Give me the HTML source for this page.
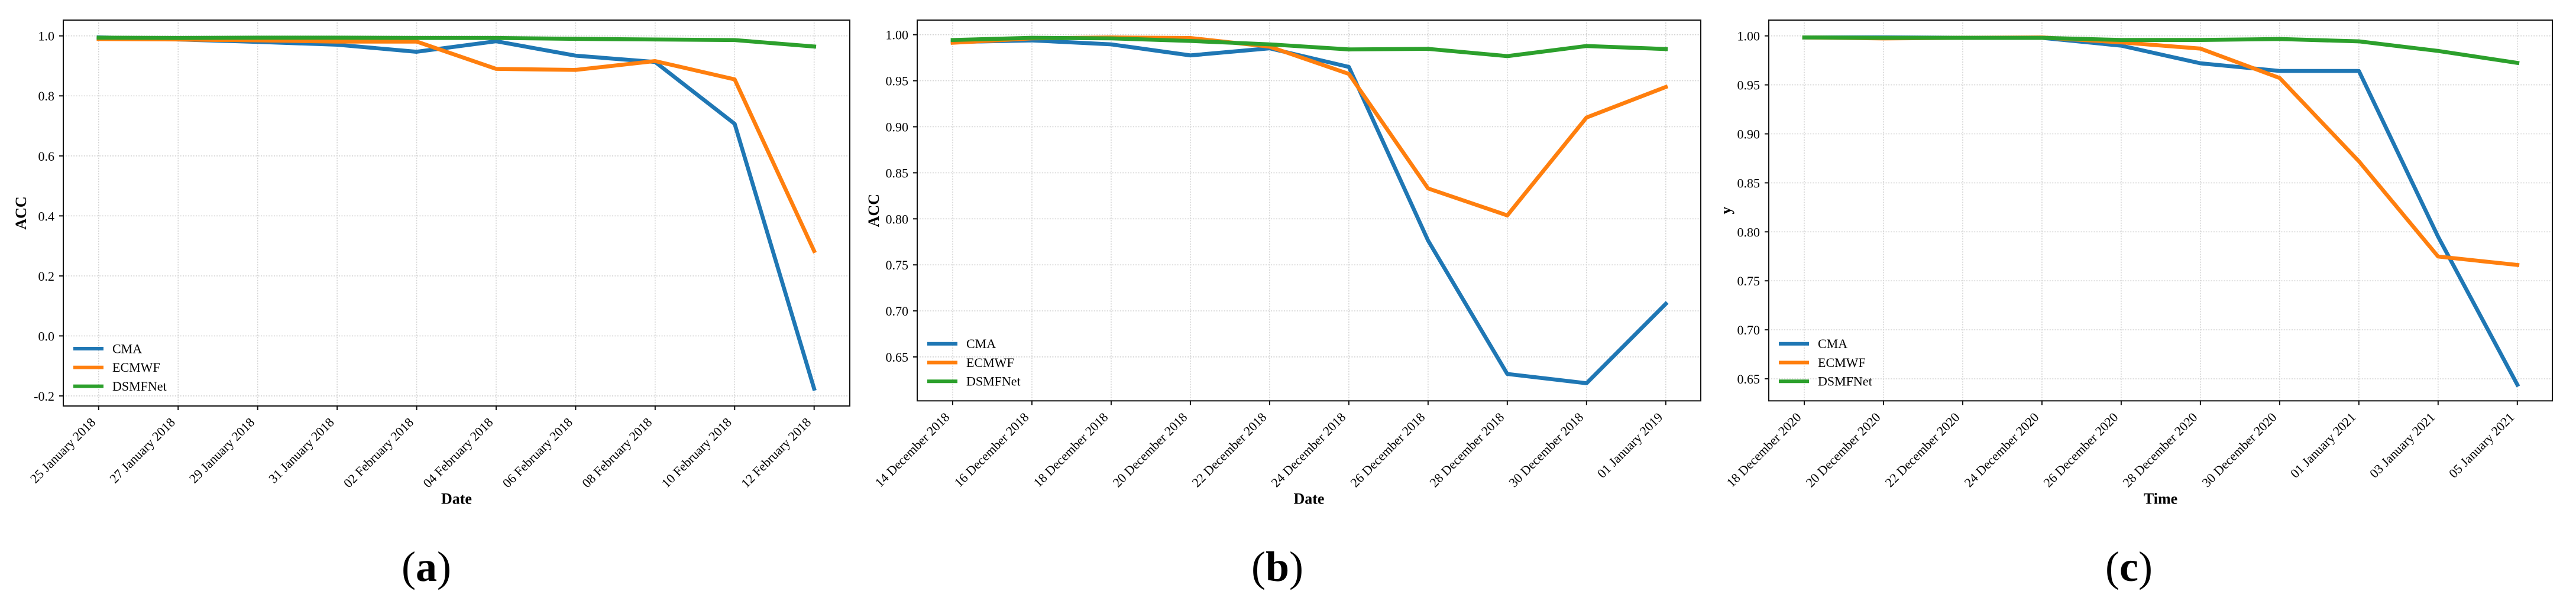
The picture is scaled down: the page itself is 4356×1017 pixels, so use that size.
<!DOCTYPE html>
<html lang="en">
<head>
<meta charset="utf-8">
<title>ACC comparison of CMA, ECMWF and DSMFNet</title>
<style>
  html, body { margin: 0; padding: 0; background: #fff; }
  svg { display: block; }
  text { font-family: "Liberation Serif", "Times New Roman", serif; fill: #000; }
  .tick { font-size: 22px; }
  .axis-title { font-size: 26px; font-weight: bold; }
  .caption { font-size: 72px; }
  .caption .bold { font-weight: bold; }
</style>
</head>
<body>
<svg id="chart" xmlns="http://www.w3.org/2000/svg" width="4356" height="1017" viewBox="0 0 4356 1017">
  <rect x="0" y="0" width="4356" height="1017" fill="#ffffff"/>
</svg>
<script>
// ---------- Panel (a) data ----------
const aDates = ["25 January 2018","27 January 2018","29 January 2018","31 January 2018","02 February 2018","04 February 2018","06 February 2018","08 February 2018","10 February 2018","12 February 2018"];
const aCma = [0.995,0.988,0.980,0.9705,0.947,0.982,0.934,0.913,0.707,-0.176];
const aEcmwf = [0.9895,0.988,0.985,0.981,0.981,0.890,0.8865,0.916,0.855,0.283];
const aDsmfnet = [0.994,0.993,0.994,0.994,0.993,0.993,0.990,0.988,0.986,0.9645];
const aYTicks = [1.0,0.8,0.6,0.4,0.2,0.0,-0.2];
const aYTickLabels = ["1.0","0.8","0.6","0.4","0.2","0.0","-0.2"];

// ---------- Panel (b) data ----------
const bDates = ["14 December 2018","16 December 2018","18 December 2018","20 December 2018","22 December 2018","24 December 2018","26 December 2018","28 December 2018","30 December 2018","01 January 2019"];
const bCma = [0.992,0.9938,0.9895,0.9775,0.9852,0.965,0.7764,0.6315,0.6214,0.7077];
const bEcmwf = [0.9912,0.996,0.997,0.9964,0.987,0.9574,0.833,0.8037,0.910,0.9432];
const bDsmfnet = [0.9942,0.9966,0.996,0.9932,0.9895,0.984,0.9846,0.9767,0.9877,0.9844];
const bYTicks = [1.00,0.95,0.90,0.85,0.80,0.75,0.70,0.65];
const bYTickLabels = ["1.00","0.95","0.90","0.85","0.80","0.75","0.70","0.65"];

// ---------- Panel (c) data ----------
const cDates = ["18 December 2020","20 December 2020","22 December 2020","24 December 2020","26 December 2020","28 December 2020","30 December 2020","01 January 2021","03 January 2021","05 January 2021"];
const cCma = [0.9984,0.9985,0.998,0.998,0.990,0.972,0.9642,0.9642,0.795,0.644];
const cEcmwf = [0.9984,0.9974,0.998,0.9984,0.9934,0.987,0.957,0.872,0.7748,0.7662];
const cDsmfnet = [0.9984,0.998,0.998,0.998,0.9958,0.9958,0.9968,0.9944,0.9846,0.9724];
const cYTicks = [1.00,0.95,0.90,0.85,0.80,0.75,0.70,0.65];
const cYTickLabels = ["1.00","0.95","0.90","0.85","0.80","0.75","0.70","0.65"];

// ---------- Shared legend / series names ----------
const seriesNames = ["CMA","ECMWF","DSMFNet"];
const seriesColors = ["#1f77b4","#ff7f0e","#2ca02c"];

const SVG_NS = "http://www.w3.org/2000/svg";
const root = document.getElementById("chart");

function mk(tag, parent) {
  const el = document.createElementNS(SVG_NS, tag);
  parent.appendChild(el);
  return el;
}

function drawPanel(p) {
  const g = mk("g", root);
  
  

  const n = p.dates.length;
  const xScale = i => p.x0 + (p.x1 - p.x0) * i / (n - 1);
  const yScale = v => p.top + (p.yMax - v) / (p.yMax - p.yMin) * (p.bottom - p.top);

  // vertical grid + x ticks + x tick labels
  p.dates.forEach((label, i) => {
    const x = xScale(i);
    const grid = mk("line", g);
    
    
    grid.setAttribute("x1", x); grid.setAttribute("x2", x);
    grid.setAttribute("y1", p.top + 4); grid.setAttribute("y2", p.bottom);
    grid.setAttribute("stroke", "#d2d2d2");
    grid.setAttribute("stroke-width", "1.6");
    grid.setAttribute("stroke-dasharray", "2 2.4");

    const tick = mk("line", g);
    
    
    tick.setAttribute("x1", x); tick.setAttribute("x2", x);
    tick.setAttribute("y1", p.bottom); tick.setAttribute("y2", p.bottom + 7);
    tick.setAttribute("stroke", "#111");
    tick.setAttribute("stroke-width", "2");

    const t = mk("text", g);
    
    
    t.setAttribute("class", "tick");
    t.setAttribute("text-anchor", "end");
    t.setAttribute("transform", "translate(" + (x - 4) + "," + (p.bottom + 29) + ") rotate(-45)");
    t.textContent = label;
  });

  // horizontal grid + y ticks + y tick labels
  p.yTicks.forEach((v, i) => {
    const y = yScale(v);
    const grid = mk("line", g);
    
    
    grid.setAttribute("x1", p.left + 4); grid.setAttribute("x2", p.right);
    grid.setAttribute("y1", y); grid.setAttribute("y2", y);
    grid.setAttribute("stroke", "#d2d2d2");
    grid.setAttribute("stroke-width", "1.6");
    grid.setAttribute("stroke-dasharray", "2 2.4");

    const tick = mk("line", g);
    
    
    tick.setAttribute("x1", p.left - 7); tick.setAttribute("x2", p.left);
    tick.setAttribute("y1", y); tick.setAttribute("y2", y);
    tick.setAttribute("stroke", "#111");
    tick.setAttribute("stroke-width", "2");

    const t = mk("text", g);
    
    
    t.setAttribute("class", "tick");
    t.setAttribute("text-anchor", "end");
    t.setAttribute("x", p.left - 15);
    t.setAttribute("y", y + 8);
    t.textContent = p.yTickLabels[i];
  });

  // series (drawn blue, orange, green)
  p.series.forEach((values, s) => {
    const line = mk("polyline", g);
    
    
    line.setAttribute("points", values.map((v, i) => xScale(i).toFixed(2) + "," + yScale(v).toFixed(2)).join(" "));
    line.setAttribute("fill", "none");
    line.setAttribute("stroke", seriesColors[s]);
    line.setAttribute("stroke-width", "6.7");
    line.setAttribute("stroke-linejoin", "round");
    line.setAttribute("stroke-linecap", "square");
  });

  // frame
  const frame = mk("rect", g);
  
  
  frame.setAttribute("x", p.left); frame.setAttribute("y", p.top);
  frame.setAttribute("width", p.right - p.left);
  frame.setAttribute("height", p.bottom - p.top);
  frame.setAttribute("fill", "none");
  frame.setAttribute("stroke", "#111");
  frame.setAttribute("stroke-width", "2");

  // legend
  const legend = mk("g", g);
  
  
  seriesNames.forEach((name, s) => {
    const y = p.legendY + s * 31.8;
    const swatch = mk("line", legend);
    
    
    swatch.setAttribute("x1", p.left + 17); swatch.setAttribute("x2", p.left + 68);
    swatch.setAttribute("y1", y); swatch.setAttribute("y2", y);
    swatch.setAttribute("stroke", seriesColors[s]);
    swatch.setAttribute("stroke-width", "6");

    const label = mk("text", legend);
    
    
    label.setAttribute("class", "tick");
    label.setAttribute("x", p.left + 83);
    label.setAttribute("y", y + 7.3);
    label.textContent = name;
  });

  // axis titles
  const xTitle = mk("text", g);
  
  
  xTitle.setAttribute("class", "axis-title");
  xTitle.setAttribute("text-anchor", "middle");
  xTitle.setAttribute("x", (p.left + p.right) / 2);
  xTitle.setAttribute("y", 852.7);
  xTitle.textContent = p.xTitle;

  const yTitle = mk("text", g);
  
  
  yTitle.setAttribute("class", "axis-title");
  yTitle.setAttribute("text-anchor", "middle");
  yTitle.setAttribute("transform", "translate(" + p.yTitleX + "," + (p.top + p.bottom) / 2 + ") rotate(-90)");
  yTitle.textContent = p.yTitle;

  // caption
  const cap = mk("text", g);
  
  
  cap.setAttribute("class", "caption");
  cap.setAttribute("text-anchor", "middle");
  cap.setAttribute("x", p.captionX);
  cap.setAttribute("y", 983);
  const open = mk("tspan", cap);
  open.textContent = "(";
  const letter = mk("tspan", cap);
  letter.setAttribute("class", "bold");
  letter.textContent = p.id;
  const close = mk("tspan", cap);
  close.textContent = ")";
}

drawPanel({
  id: "a", dates: aDates, series: [aCma, aEcmwf, aDsmfnet],
  yTicks: aYTicks, yTickLabels: aYTickLabels,
  left: 107, right: 1437, top: 34, bottom: 687,
  x0: 166.8, x1: 1376.7, yMax: 1.0526, yMin: -0.2336,
  legendY: 590, xTitle: "Date", yTitle: "ACC", yTitleX: 44, captionX: 721
});
drawPanel({
  id: "b", dates: bDates, series: [bCma, bEcmwf, bDsmfnet],
  yTicks: bYTicks, yTickLabels: bYTickLabels,
  left: 1551, right: 2876, top: 34, bottom: 678.3,
  x0: 1611, x1: 2816.8, yMax: 1.01585, yMin: 0.6023,
  legendY: 581.7, xTitle: "Date", yTitle: "ACC", yTitleX: 1486, captionX: 2160
});
drawPanel({
  id: "c", dates: cDates, series: [cCma, cEcmwf, cDsmfnet],
  yTicks: cYTicks, yTickLabels: cYTickLabels,
  left: 2991, right: 4316, top: 34, bottom: 678.3,
  x0: 3051, x1: 4256.8, yMax: 1.0161, yMin: 0.6275,
  legendY: 581.7, xTitle: "Time", yTitle: "y", yTitleX: 2927, captionX: 3600
});
</script>
</body>
</html>
